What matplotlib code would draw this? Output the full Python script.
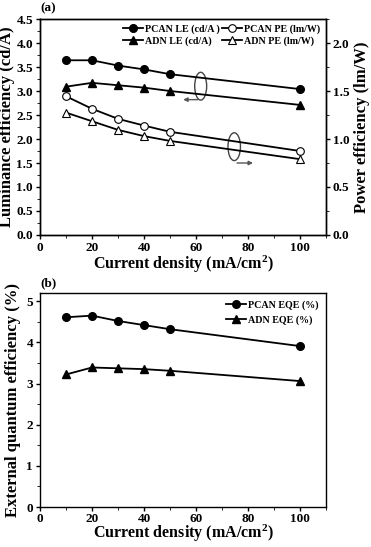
import matplotlib
matplotlib.use("Agg")
import matplotlib.pyplot as plt
from matplotlib.patches import Ellipse
from matplotlib.ticker import MultipleLocator

plt.rcParams['font.family'] = ['Liberation Serif', 'DejaVu Serif']
plt.rcParams['font.weight'] = 'bold'
plt.rcParams['mathtext.fontset'] = 'custom'
plt.rcParams['mathtext.rm'] = 'Liberation Serif:bold'
plt.rcParams['mathtext.bf'] = 'Liberation Serif:bold'
plt.rcParams['mathtext.default'] = 'bf'

current = [10, 20, 30, 40, 50, 100]
pcan_le = [3.64, 3.64, 3.53, 3.45, 3.35, 3.04]
adn_le = [3.09, 3.17, 3.12, 3.07, 3.00, 2.71]
pcan_pe = [1.445, 1.315, 1.21, 1.14, 1.075, 0.875]
adn_pe = [1.275, 1.185, 1.095, 1.03, 0.98, 0.79]
pcan_eqe = [4.61, 4.65, 4.52, 4.42, 4.32, 3.91]
adn_eqe = [3.22, 3.39, 3.37, 3.35, 3.31, 3.06]

W, H = 371, 547
fig = plt.figure(figsize=(W/100, H/100), dpi=100)

def box(l, t, r, b):
    return [l/W, 1-b/H, (r-l)/W, (b-t)/H]

tick_fs = 9.5
lab_fs = 12
xlab_fs = 11.5
leg_fs = 7.2
xlabel = 'Current density (mA/cm$^{2}$)'

ax1 = fig.add_axes(box(40, 19, 326, 235))
ax2 = ax1.twinx()
l1, = ax1.plot(current, pcan_le, '-o', color='black', ms=5.5, lw=1.3, label='PCAN LE (cd/A )')
l2, = ax1.plot(current, adn_le, '-^', color='black', ms=5.5, lw=1.3, label='ADN LE (cd/A)')
l3, = ax2.plot(current, pcan_pe, '-o', color='black', mfc='white', mew=0.8, ms=5.5, lw=1.3, label='PCAN PE (lm/W)')
l4, = ax2.plot(current, adn_pe, '-^', color='black', mfc='white', mew=0.8, ms=5.5, lw=1.3, label='ADN PE (lm/W)')
ax1.set_xlim(0, 110)
ax1.set_ylim(0, 4.5)
ax2.set_ylim(0, 2.25)
ax1.xaxis.set_major_locator(MultipleLocator(20))
ax1.xaxis.set_minor_locator(MultipleLocator(10))
ax1.yaxis.set_major_locator(MultipleLocator(0.5))
ax1.yaxis.set_minor_locator(MultipleLocator(0.25))
ax2.yaxis.set_major_locator(MultipleLocator(0.5))
ax2.yaxis.set_minor_locator(MultipleLocator(0.25))
ax1.set_xlabel(xlabel, fontsize=xlab_fs, fontweight='bold', labelpad=0)
ax1.set_ylabel('Luminance efficiency (cd/A)', fontsize=lab_fs, fontweight='bold', labelpad=1)
ax2.set_ylabel('Power efficiency (lm/W)', fontsize=lab_fs, fontweight='bold', labelpad=3)
for a in (ax1, ax2):
    a.tick_params(labelsize=tick_fs, width=1, length=3, pad=2)
    a.tick_params(which='minor', length=2)
    for s in a.spines.values():
        s.set_linewidth(1)
ax1.legend(handles=[l1, l2, l3, l4], ncol=2, loc='upper right', frameon=False,
           handlelength=2.0, handletextpad=0.2, columnspacing=0.2,
           labelspacing=0.25, borderaxespad=0.15, prop={'weight': 'bold', 'size': leg_fs})
ax1.add_patch(Ellipse((61.8, 3.1), 4.6, 0.58, fill=False, ec='#444444', lw=1))
ax1.annotate('', xy=(54.0, 2.82), xytext=(61.8, 2.82),
             arrowprops=dict(arrowstyle='-|>', color='#555555', lw=1, mutation_scale=6))
ax1.add_patch(Ellipse((74.7, 1.84), 4.8, 0.58, fill=False, ec='#444444', lw=1))
ax1.annotate('', xy=(83.0, 1.5), xytext=(74.7, 1.5),
             arrowprops=dict(arrowstyle='-|>', color='#555555', lw=1, mutation_scale=6))
fig.text(40/W, 1-8/H, '(a)', fontsize=9.5, fontweight='bold', va='center', ha='left')

ax3 = fig.add_axes(box(40, 293, 326, 507))
m1, = ax3.plot(current, pcan_eqe, '-o', color='black', ms=5.5, lw=1.3, label='PCAN EQE (%)')
m2, = ax3.plot(current, adn_eqe, '-^', color='black', ms=5.5, lw=1.3, label='ADN EQE (%)')
ax3.set_xlim(0, 110)
ax3.set_ylim(0, 5.2)
ax3.xaxis.set_major_locator(MultipleLocator(20))
ax3.xaxis.set_minor_locator(MultipleLocator(10))
ax3.yaxis.set_major_locator(MultipleLocator(1))
ax3.yaxis.set_minor_locator(MultipleLocator(0.5))
ax3.tick_params(labelsize=tick_fs, width=1, length=3, pad=2)
ax3.tick_params(axis='x', pad=1)
ax3.tick_params(which='minor', length=2)
for s in ax3.spines.values():
    s.set_linewidth(1)
ax3.set_xlabel(xlabel, fontsize=xlab_fs, fontweight='bold', labelpad=-1)
ax3.set_ylabel('External quantum efficiency (%)', fontsize=lab_fs, fontweight='bold', labelpad=4)
ax3.legend(handles=[m1, m2], loc='upper right', frameon=False,
           handlelength=2.0, handletextpad=0.2, labelspacing=0.6, borderaxespad=0.3,
           prop={'weight': 'bold', 'size': leg_fs})
fig.text(40/W, 1-283/H, '(b)', fontsize=9.5, fontweight='bold', va='center', ha='left')

for a in (ax1, ax2, ax3):
    for lbl in a.get_xticklabels() + a.get_yticklabels():
        lbl.set_fontweight('bold')

fig.savefig('out.png', dpi=100)
